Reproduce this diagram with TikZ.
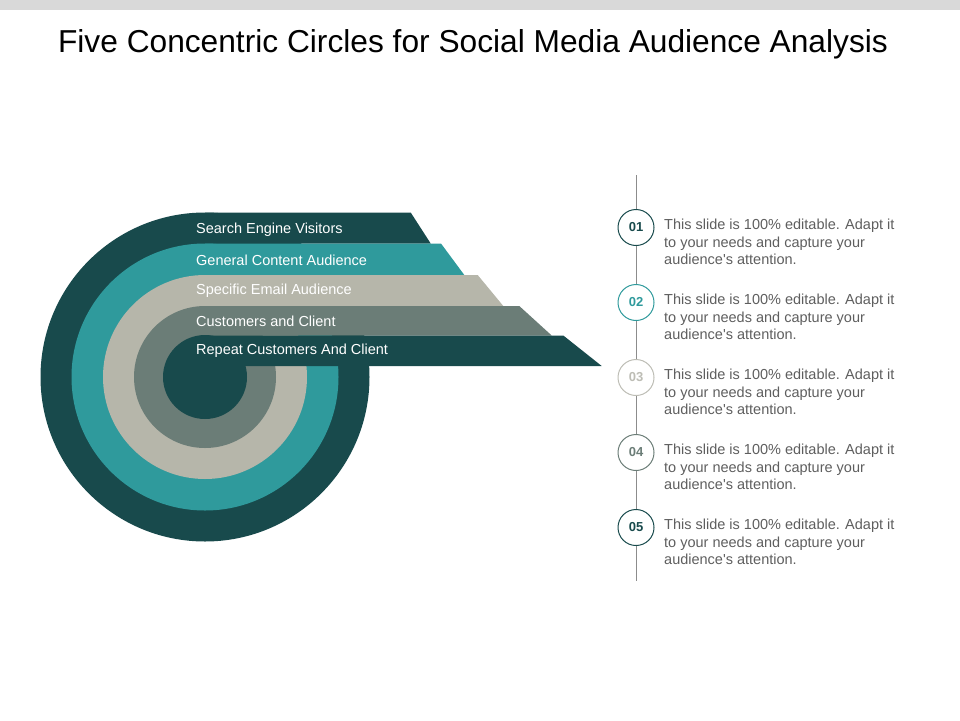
\documentclass[tikz,border=0pt]{standalone}
\usepackage{fontspec}
\setmainfont{Liberation Sans}
\usetikzlibrary{positioning}
\definecolor{deepteal}{HTML}{184A4C}
\definecolor{seateal}{HTML}{2F9A9C}
\definecolor{stone}{HTML}{B6B6AA}
\definecolor{slate}{HTML}{6B7D77}
\definecolor{paler}{HTML}{BDBDB5}
\definecolor{bodygray}{HTML}{5E5E5E}
\definecolor{railgray}{HTML}{8C8C8C}
\definecolor{bargray}{HTML}{D9D9D9}
\newcommand{\blurb}{This slide is 100\% editable. Adapt it\\to your needs and capture your\\audience\textquotesingle s attention.}
\tikzset{
  lbl/.style={anchor=west, inner sep=0, text=white, font=\fontsize{14.5}{17}\selectfont},
  num/.style={circle, draw=#1, text=#1, fill=white, line width=1pt, minimum size=36pt, inner sep=0,
    font=\bfseries\fontsize{13}{15}\selectfont},
  para/.style={anchor=north west, inner sep=0, align=left, text=bodygray, font=\fontsize{14.5}{17.7}\selectfont},
  rail/.style={draw=railgray, line width=0.9pt},
}
\begin{document}
\begin{tikzpicture}[x=1pt, y=-1pt]
\useasboundingbox (0,0) rectangle (960,720);
\fill[bargray] (0,0) rectangle (960,10);
% title
\node[anchor=base, inner sep=0, font=\fontsize{31.7}{38}\selectfont] (title) at (473,52)
  {Five Concentric Circles for Social Media Audience Analysis};

% rings and bands
\fill[deepteal] (205,377) circle (164.5pt);
\fill[deepteal] (205,212.5) -- (410.7,212.5) -- (430.7,243.5) -- (205,243.5) -- cycle;
\fill[seateal] (205,377) circle (133.5pt);
\fill[seateal] (205,243.5) -- (441,243.5) -- (464.3,275) -- (205,275) -- cycle;
\fill[stone] (205,377) circle (102pt);
\fill[stone] (205,275) -- (477.7,275) -- (503.3,306) -- (205,306) -- cycle;
\fill[slate] (205,377) circle (71pt);
\fill[slate] (205,306) -- (519.3,306) -- (551.7,335.5) -- (205,335.5) -- cycle;
\fill[deepteal] (205,377) circle (42pt);
\fill[deepteal] (205,335.5) -- (563.3,335.5) -- (601.7,366) -- (205,366) -- cycle;

% labels
\node[lbl] (search) at (196,229.5) {Search Engine Visitors};
\node[lbl] (general) at (196,260) {General Content Audience};
\node[lbl] (email) at (196,291) {Specific Email Audience};
\node[lbl] (cust) at (196,321.5) {Customers and Client};
\node[lbl] (repeat) at (196,350.5) {Repeat Customers And Client};

% steps
\coordinate (railtop) at (636,175);
\coordinate (railbot) at (636,581);
\node[num=deepteal] (n1) at (636,227.5) {01};
\node[num=seateal] (n2) at (636,302.5) {02};
\node[num=paler] (n3) at (636,377.5) {03};
\node[num=slate] (n4) at (636,452.5) {04};
\node[num=deepteal] (n5) at (636,527.5) {05};

\node[para] (t1) at (664,218.7) {\blurb};
\node[para] (t2) at (664,293.7) {\blurb};
\node[para] (t3) at (664,368.7) {\blurb};
\node[para] (t4) at (664,443.7) {\blurb};
\node[para] (t5) at (664,518.7) {\blurb};

% rail
\draw[rail] (railtop) -- (n1);
\draw[rail] (n1) -- (n2);
\draw[rail] (n2) -- (n3);
\draw[rail] (n3) -- (n4);
\draw[rail] (n4) -- (n5);
\draw[rail] (n5) -- (railbot);
\end{tikzpicture}
\end{document}
